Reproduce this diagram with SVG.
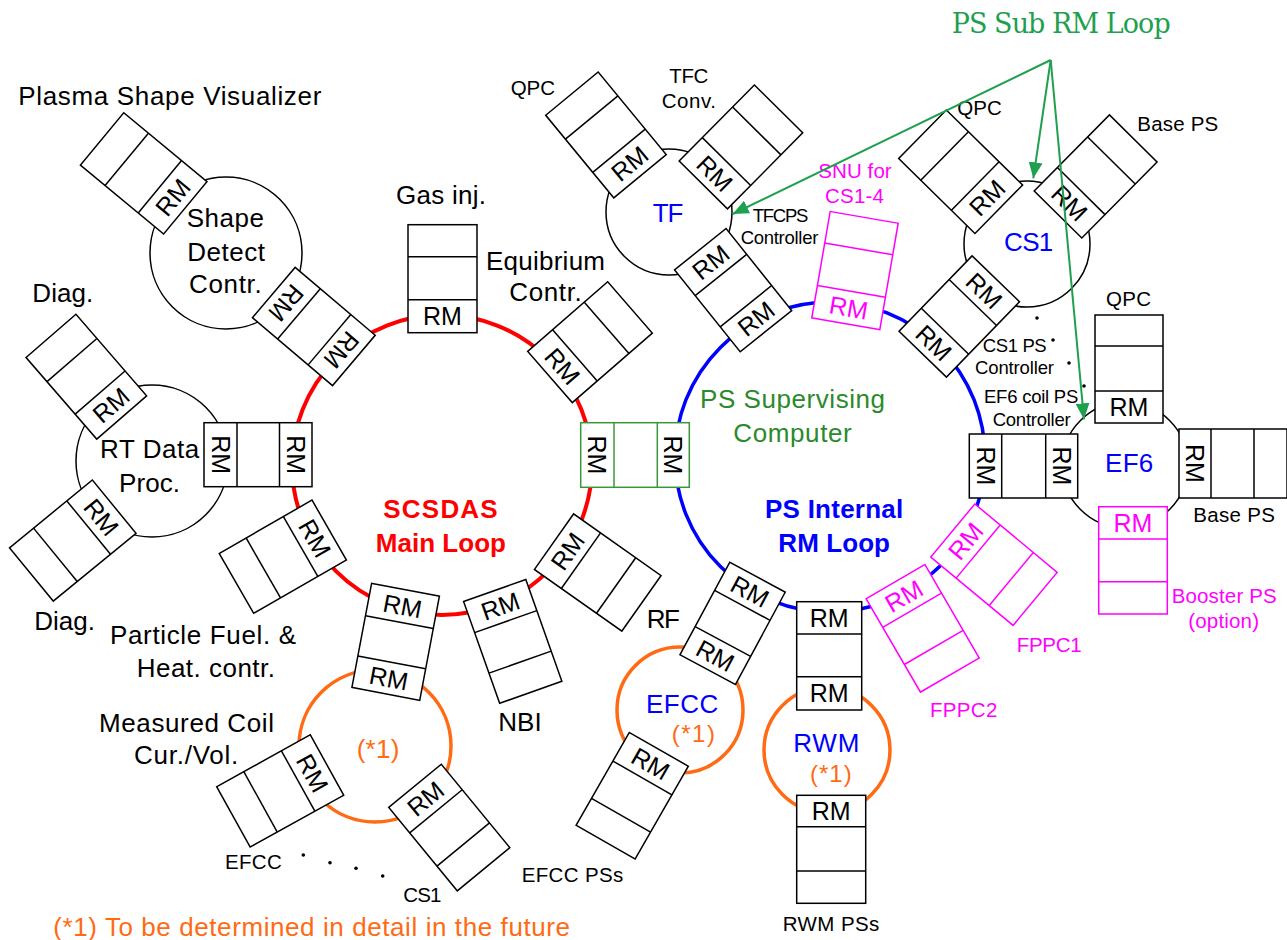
<svg xmlns="http://www.w3.org/2000/svg" width="1287" height="940" viewBox="0 0 1287 940">
<style>
text{font-family:"Liberation Sans",Arial,Helvetica,sans-serif}
.bx rect{fill:#fff;stroke:#000;stroke-width:1.5}
.bx line{stroke:#000;stroke-width:1.5}
.bx text{font-size:25px;text-anchor:middle;fill:#000}
.mg rect,.mg line{stroke:#f0f}
.mg text{fill:#f0f}
.gn rect,.gn line{stroke:#3b963b}
.nd{fill:none;stroke:#000;stroke-width:1.5}
.lb{font-size:26px;fill:#000}
.sm{font-size:20.5px;fill:#000}
.sm2{font-size:18.5px;fill:#000}
.big{font-size:26px}
.bl{fill:#00f}
.or{fill:#ff6a13}
.mgt{fill:#f0f}
.rd{fill:#f00;font-weight:bold}
.bb{fill:#00f;font-weight:bold}
.gr{fill:#2b8a2b}
.loop{fill:none}
.arr{stroke:#1fa04f;stroke-width:2;fill:none;marker-end:url(#ah)}
</style>
<defs>
<marker id="ah" viewBox="0 0 16 14" refX="16" refY="7" markerWidth="16" markerHeight="14" markerUnits="userSpaceOnUse" orient="auto"><path d="M0,0 L16,7 L0,14 z" fill="#1fa04f"/></marker>
</defs>
<rect width="1287" height="940" fill="#fff"/>

<g id="loops">
<circle id="scsdas-loop" class="loop" cx="442" cy="465" r="150" stroke="#f00" stroke-width="4"/>
<circle id="ps-internal-loop" class="loop" cx="830" cy="457" r="155" stroke="#00f" stroke-width="3.5"/>
<circle id="tbd-loop" class="loop" cx="375" cy="746" r="76" stroke="#ff6a13" stroke-width="3.5"/>
<circle id="efcc-loop" class="loop" cx="680" cy="710" r="63" stroke="#ff6a13" stroke-width="3.5"/>
<circle id="rwm-loop" class="loop" cx="827" cy="750" r="63" stroke="#ff6a13" stroke-width="3.5"/>
</g>

<g id="shape-detect"><circle class="nd" cx="226" cy="253" r="76"/>
<text class="lb" x="186.7" y="226.7" textLength="77.3">Shape</text>
<text class="lb" x="187.3" y="261" textLength="77.7">Detect</text>
<text class="lb" x="189" y="293.3" textLength="72.7">Contr.</text></g>
<g id="rt-data"><circle class="nd" cx="152" cy="461" r="76"/>
<text class="lb" x="100" y="458.3" textLength="99.3">RT Data</text>
<text class="lb" x="119" y="491.7" textLength="61">Proc.</text></g>
<g id="tf"><circle class="nd" cx="669" cy="212" r="63"/><text class="big bl" x="652.7" y="221.7" textLength="30.6">TF</text></g>
<g id="cs1"><circle class="nd" cx="1027" cy="244" r="63"/><text class="big bl" x="1004" y="250.7" textLength="49.3">CS1</text></g>
<g id="ef6"><circle class="nd" cx="1125" cy="465" r="63"/><text class="big bl" x="1105" y="472.3" textLength="48.3">EF6</text></g>

<g id="psv-box" class="bx" transform="translate(185.3,207.8) rotate(-140.4)"><rect x="0" y="-34" width="108" height="68"/><line x1="33" y1="-34" x2="33" y2="34"/><line x1="76" y1="-34" x2="76" y2="34"/><text transform="translate(16.5,0) rotate(90)" y="9">RM</text></g>
<g id="shape-conn-box" class="bx" transform="translate(273.8,292.5) rotate(40.3)"><rect x="0" y="-33" width="105" height="66"/><line x1="33" y1="-33" x2="33" y2="33"/><line x1="73" y1="-33" x2="73" y2="33"/><text transform="translate(16.5,0) rotate(90)" y="9">RM</text><text transform="translate(89,0) rotate(90)" y="9">RM</text></g>
<g id="gas-box" class="bx" transform="translate(442.5,332.7) rotate(-90)"><rect x="0" y="-34.5" width="108" height="69"/><line x1="33" y1="-34.5" x2="33" y2="34.5"/><line x1="76" y1="-34.5" x2="76" y2="34.5"/><text transform="translate(16.5,0) rotate(90)" y="9">RM</text></g>
<g id="equ-box" class="bx" transform="translate(550,377) rotate(-41)"><rect x="0" y="-34" width="106" height="68"/><line x1="33" y1="-34" x2="33" y2="34"/><line x1="75" y1="-34" x2="75" y2="34"/><text transform="translate(16.5,0) rotate(90)" y="9">RM</text></g>
<g id="rt-conn-box" class="bx" transform="translate(204,454.7)"><rect x="0" y="-32" width="108" height="64"/><line x1="33" y1="-32" x2="33" y2="32"/><line x1="75.5" y1="-32" x2="75.5" y2="32"/><text transform="translate(16.5,0) rotate(90)" y="9">RM</text><text transform="translate(91.8,0) rotate(90)" y="9">RM</text></g>
<g id="ps-sup-box" class="bx gn" transform="translate(580.7,455)"><rect x="0" y="-32.3" width="108.6" height="64.6"/><line x1="33.3" y1="-32.3" x2="33.3" y2="32.3"/><line x1="76.6" y1="-32.3" x2="76.6" y2="32.3"/><text transform="translate(16.7,0) rotate(90)" y="9">RM</text><text transform="translate(92.6,0) rotate(90)" y="9">RM</text></g>
<g id="diag1-box" class="bx" transform="translate(121.7,417.5) rotate(-130.9)"><rect x="0" y="-33" width="108" height="66"/><line x1="33" y1="-33" x2="33" y2="33"/><line x1="76" y1="-33" x2="76" y2="33"/><text transform="translate(16.5,0) rotate(90)" y="9">RM</text></g>
<g id="diag2-box" class="bx" transform="translate(114.2,506.7) rotate(140.7)"><rect x="0" y="-34.5" width="107" height="69"/><line x1="33" y1="-34.5" x2="33" y2="34.5"/><line x1="76" y1="-34.5" x2="76" y2="34.5"/><text transform="translate(16.5,0) rotate(-90)" y="9">RM</text></g>
<g id="particle-box" class="bx" transform="translate(329.2,530) rotate(150.1)"><rect x="0" y="-34.5" width="107" height="69"/><line x1="33" y1="-34.5" x2="33" y2="34.5"/><line x1="76" y1="-34.5" x2="76" y2="34.5"/><text transform="translate(16.5,0) rotate(-90)" y="9">RM</text></g>
<g id="main-tbd-conn-box" class="bx" transform="translate(405.5,589.7) rotate(100.7)"><rect x="0" y="-34.5" width="106" height="69"/><line x1="33" y1="-34.5" x2="33" y2="34.5"/><line x1="74" y1="-34.5" x2="74" y2="34.5"/><text transform="translate(16.5,0) rotate(-90)" y="9">RM</text><text transform="translate(90,0) rotate(-90)" y="9">RM</text></g>
<g id="nbi-box" class="bx" transform="translate(494.7,590.5) rotate(70.5)"><rect x="0" y="-33" width="108" height="66"/><line x1="33" y1="-33" x2="33" y2="33"/><line x1="76" y1="-33" x2="76" y2="33"/><text transform="translate(16.5,0) rotate(-90)" y="9">RM</text></g>
<g id="rf-box" class="bx" transform="translate(554,541.7) rotate(35.2)"><rect x="0" y="-34" width="107" height="68"/><line x1="33" y1="-34" x2="33" y2="34"/><line x1="76" y1="-34" x2="76" y2="34"/><text transform="translate(16.5,0) rotate(-90)" y="9">RM</text></g>
<g id="efcc-meas-box" class="bx" transform="translate(327,765) rotate(151)"><rect x="0" y="-34.5" width="107" height="69"/><line x1="33" y1="-34.5" x2="33" y2="34.5"/><line x1="76" y1="-34.5" x2="76" y2="34.5"/><text transform="translate(16.5,0) rotate(-90)" y="9">RM</text></g>
<g id="cs1-meas-box" class="bx" transform="translate(415,785.8) rotate(50.6)"><rect x="0" y="-34" width="108" height="68"/><line x1="33" y1="-34" x2="33" y2="34"/><line x1="76" y1="-34" x2="76" y2="34"/><text transform="translate(16.5,0) rotate(-90)" y="9">RM</text></g>
<g id="tf-qpc-box" class="bx" transform="translate(640,176.2) rotate(-129.5)"><rect x="0" y="-34" width="107" height="68"/><line x1="33" y1="-34" x2="33" y2="34"/><line x1="76" y1="-34" x2="76" y2="34"/><text transform="translate(16.5,0) rotate(90)" y="9">RM</text></g>
<g id="tfc-conv-box" class="bx" transform="translate(703.3,185) rotate(-45.3)"><rect x="0" y="-34" width="107" height="68"/><line x1="33" y1="-34" x2="33" y2="34"/><line x1="76" y1="-34" x2="76" y2="34"/><text transform="translate(16.5,0) rotate(90)" y="9">RM</text></g>
<g id="tf-conn-box" class="bx" transform="translate(700.3,249.2) rotate(51.3)"><rect x="0" y="-33" width="105" height="66"/><line x1="33" y1="-33" x2="33" y2="33"/><line x1="73" y1="-33" x2="73" y2="33"/><text transform="translate(16.5,0) rotate(-90)" y="9">RM</text><text transform="translate(89,0) rotate(-90)" y="9">RM</text></g>
<g id="snu-box" class="bx mg" transform="translate(845.8,323.8) rotate(-80.2)"><rect x="0" y="-34.5" width="108" height="69"/><line x1="33" y1="-34.5" x2="33" y2="34.5"/><line x1="76" y1="-34.5" x2="76" y2="34.5"/><text transform="translate(16.5,0) rotate(90)" y="9">RM</text></g>
<g id="cs1-qpc-box" class="bx" transform="translate(998.8,209.2) rotate(-135.5)"><rect x="0" y="-34" width="107" height="68"/><line x1="33" y1="-34" x2="33" y2="34"/><line x1="76" y1="-34" x2="76" y2="34"/><text transform="translate(16.5,0) rotate(90)" y="9">RM</text></g>
<g id="cs1-base-box" class="bx" transform="translate(1058,214.5) rotate(-45.3)"><rect x="0" y="-33.5" width="107" height="67"/><line x1="33" y1="-33.5" x2="33" y2="33.5"/><line x1="76" y1="-33.5" x2="76" y2="33.5"/><text transform="translate(16.5,0) rotate(90)" y="9">RM</text></g>
<g id="cs1-conn-box" class="bx" transform="translate(995.8,278.8) rotate(134.1)"><rect x="0" y="-33" width="105" height="66"/><line x1="33" y1="-33" x2="33" y2="33"/><line x1="73" y1="-33" x2="73" y2="33"/><text transform="translate(16.5,0) rotate(-90)" y="9">RM</text><text transform="translate(89,0) rotate(-90)" y="9">RM</text></g>
<g id="ef6-qpc-box" class="bx" transform="translate(1129,423) rotate(-90)"><rect x="0" y="-34" width="108" height="68"/><line x1="32" y1="-34" x2="32" y2="34"/><line x1="77" y1="-34" x2="77" y2="34"/><text transform="translate(16,0) rotate(90)" y="9">RM</text></g>
<g id="ef6-base-box" class="bx" transform="translate(1179,463.5)"><rect x="0" y="-34.5" width="108" height="69"/><line x1="32" y1="-34.5" x2="32" y2="34.5"/><line x1="75" y1="-34.5" x2="75" y2="34.5"/><text transform="translate(16,0) rotate(90)" y="9">RM</text></g>
<g id="ef6-conn-box" class="bx" transform="translate(969.3,466)"><rect x="0" y="-32" width="108.4" height="64"/><line x1="32.4" y1="-32" x2="32.4" y2="32"/><line x1="76.4" y1="-32" x2="76.4" y2="32"/><text transform="translate(16.2,0) rotate(90)" y="9">RM</text><text transform="translate(92.4,0) rotate(90)" y="9">RM</text></g>
<g id="booster-box" class="bx mg" transform="translate(1133,506.7) rotate(90)"><rect x="0" y="-34.3" width="107.3" height="68.6"/><line x1="32.3" y1="-34.3" x2="32.3" y2="34.3"/><line x1="75" y1="-34.3" x2="75" y2="34.3"/><text transform="translate(16.2,0) rotate(-90)" y="9">RM</text></g>
<g id="fppc1-box" class="bx mg" transform="translate(952.8,530.5) rotate(39.7)"><rect x="0" y="-34.5" width="107" height="69"/><line x1="33" y1="-34.5" x2="33" y2="34.5"/><line x1="76" y1="-34.5" x2="76" y2="34.5"/><text transform="translate(16.5,0) rotate(-90)" y="9">RM</text></g>
<g id="fppc2-box" class="bx mg" transform="translate(895.5,581.7) rotate(59.8)"><rect x="0" y="-34" width="108" height="68"/><line x1="33" y1="-34" x2="33" y2="34"/><line x1="76" y1="-34" x2="76" y2="34"/><text transform="translate(16.5,0) rotate(-90)" y="9">RM</text></g>
<g id="efcc-conn-box" class="bx" transform="translate(757.5,577.2) rotate(118.3)"><rect x="0" y="-31.5" width="105" height="63"/><line x1="32" y1="-31.5" x2="32" y2="31.5"/><line x1="73" y1="-31.5" x2="73" y2="31.5"/><text transform="translate(16,0) rotate(-90)" y="9">RM</text><text transform="translate(89,0) rotate(-90)" y="9">RM</text></g>
<g id="efcc-ps-box" class="bx" transform="translate(658.8,749.3) rotate(119.8)"><rect x="0" y="-34" width="107" height="68"/><line x1="33" y1="-34" x2="33" y2="34"/><line x1="76" y1="-34" x2="76" y2="34"/><text transform="translate(16.5,0) rotate(-90)" y="9">RM</text></g>
<g id="rwm-conn-box" class="bx" transform="translate(829.2,601.7) rotate(90)"><rect x="0" y="-32.5" width="108.3" height="65"/><line x1="32.3" y1="-32.5" x2="32.3" y2="32.5"/><line x1="75" y1="-32.5" x2="75" y2="32.5"/><text transform="translate(16.2,0) rotate(-90)" y="9">RM</text><text transform="translate(91.6,0) rotate(-90)" y="9">RM</text></g>
<g id="rwm-ps-box" class="bx" transform="translate(831.2,795.3) rotate(90)"><rect x="0" y="-34.5" width="108" height="69"/><line x1="31.4" y1="-34.5" x2="31.4" y2="34.5"/><line x1="75.7" y1="-34.5" x2="75.7" y2="34.5"/><text transform="translate(15.7,0) rotate(-90)" y="9">RM</text></g>

<g id="labels">
<text class="lb" x="18.3" y="105" textLength="303">Plasma Shape Visualizer</text>
<text class="lb" x="396" y="204" textLength="90">Gas inj.</text>
<text class="lb" x="486" y="270" textLength="119">Equibrium</text>
<text class="lb" x="509.3" y="300.7" textLength="72.4">Contr.</text>
<text class="lb" x="32.3" y="301.7" textLength="61">Diag.</text>
<text class="lb" x="34.3" y="630" textLength="60.7">Diag.</text>
<text class="lb" x="110" y="644" textLength="186">Particle Fuel. &amp;</text>
<text class="lb" x="136.7" y="676.7" textLength="138.3">Heat. contr.</text>
<text class="lb" x="99" y="731.7" textLength="175">Measured Coil</text>
<text class="lb" x="134" y="764" textLength="104.3">Cur./Vol.</text>
<text class="lb or" x="356.7" y="758" textLength="42.6">(*1)</text>
<text class="sm" x="225" y="869.3" textLength="56.7">EFCC</text>
<text class="sm" x="403.3" y="901.7" textLength="38">CS1</text>
<text class="lb or" x="53.3" y="936" textLength="516.7">(*1) To be determined in detail in the future</text>
<text class="lb" x="498.3" y="730.7" textLength="43.4">NBI</text>
<text class="lb" x="646.7" y="628.3" textLength="33.3">RF</text>
<text class="big bl" x="646" y="712.7" textLength="72.3">EFCC</text>
<text class="or" x="671.7" y="742" textLength="43.3" style="font-size:24px">(*1)</text>
<text class="sm" x="521.7" y="881.7" textLength="101.6">EFCC PSs</text>
<text class="big bl" x="793.3" y="751.5" textLength="66">RWM</text>
<text class="or" x="810" y="782" textLength="41.7" style="font-size:24px">(*1)</text>
<text class="sm" x="782.7" y="930.7" textLength="96.6">RWM PSs</text>
<text class="sm mgt" x="930" y="716.7" textLength="67.3">FPPC2</text>
<text class="sm mgt" x="1016.7" y="651.7" textLength="65">FPPC1</text>
<text class="sm mgt" x="1171.7" y="602.7" textLength="105">Booster PS</text>
<text class="sm mgt" x="1188.3" y="628.3" textLength="70.7">(option)</text>
<text class="sm" x="1193.3" y="521.7" textLength="81.7">Base PS</text>
<text class="sm" x="1106" y="306" textLength="45">QPC</text>
<text class="sm2" x="982.7" y="351.7" textLength="64">CS1 PS</text>
<text class="sm2" x="975" y="374" textLength="79">Controller</text>
<text class="sm2" x="984" y="403.3" textLength="94.3">EF6 coil PS</text>
<text class="sm2" x="992.7" y="426" textLength="78">Controller</text>
<text class="sm" x="957.3" y="115" textLength="44.4">QPC</text>
<text class="sm" x="1137.3" y="131" textLength="81">Base PS</text>
<text class="sm mgt" x="818.3" y="178.3" textLength="73.4">SNU for</text>
<text class="sm mgt" x="825" y="202.7" textLength="59">CS1-4</text>
<text class="sm2" x="752.7" y="221.7" textLength="55.6">TFCPS</text>
<text class="sm2" x="740.7" y="244" textLength="77.6">Controller</text>
<text class="sm" x="510.7" y="95" textLength="44.3">QPC</text>
<text class="sm" x="669.3" y="83.3" textLength="39">TFC</text>
<text class="sm" x="661.7" y="108.3" textLength="54.3">Conv.</text>
<text x="951.7" y="33.3" textLength="219" style="font-family:'DejaVu Serif','Liberation Serif',serif;font-size:27px;fill:#1fa04f">PS Sub RM Loop</text>
<text class="lb gr" x="700" y="408.3" textLength="185">PS Supervising</text>
<text class="lb gr" x="733.3" y="441.7" textLength="118.4">Computer</text>
<text class="lb rd" x="383.3" y="518.3" textLength="114.4">SCSDAS</text>
<text class="lb rd" x="375.7" y="551.7" textLength="130.3">Main Loop</text>
<text class="lb bb" x="765" y="518.3" textLength="138.3">PS Internal</text>
<text class="lb bb" x="778.3" y="551.7" textLength="111.7">RM Loop</text>
</g>

<g id="dots" fill="#000">
<circle cx="1037" cy="318" r="1.8"/><circle cx="1053" cy="340" r="1.8"/><circle cx="1069" cy="363" r="1.8"/><circle cx="1084" cy="386" r="1.8"/>
<circle cx="303.3" cy="855" r="1.8"/><circle cx="330" cy="862.7" r="1.8"/><circle cx="356" cy="868.3" r="1.8"/><circle cx="382.7" cy="876" r="1.8"/>
</g>

<g id="connectors">
<line class="arr" x1="1050.7" y1="60" x2="732.7" y2="214"/>
<line class="arr" x1="1050.7" y1="60" x2="1033.3" y2="178.3"/>
<line class="arr" x1="1050.7" y1="60" x2="1084" y2="419.3"/>
</g>
</svg>
